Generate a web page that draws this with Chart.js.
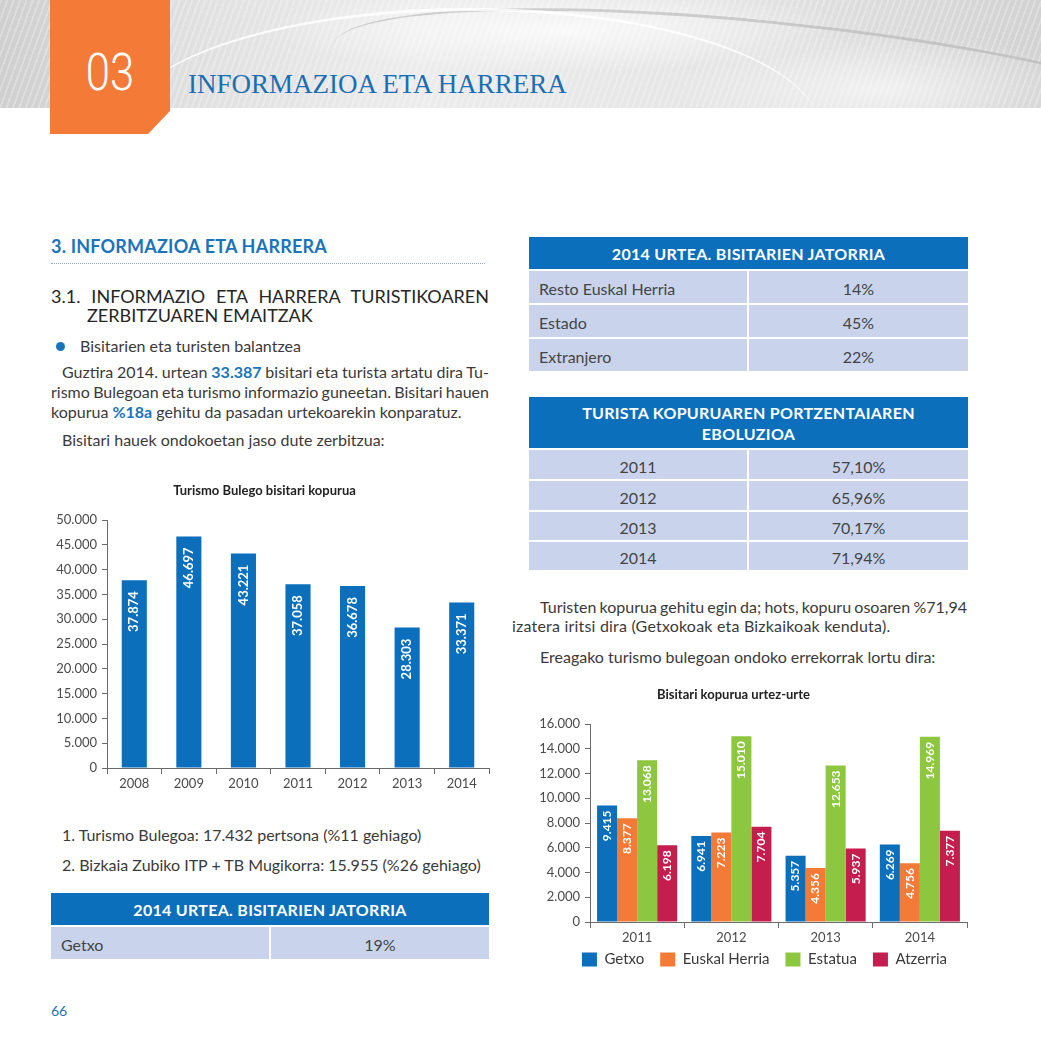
<!DOCTYPE html>
<html>
<head>
<meta charset="utf-8">
<script src="https://cdn.jsdelivr.net/npm/chart.js@4.4.1/dist/chart.umd.min.js"></script>
<style>
  html, body { margin:0; padding:0; }
  body { width:1041px; height:1041px; position:relative; overflow:hidden; background:#fff; font-family: Lato, "Noto Sans", sans-serif; color:#3a3a3a; }
  .abs { position:absolute; white-space:nowrap; }
  .hdr { left:0; top:0; width:1041px; height:108px;
    background:
      radial-gradient(ellipse 420px 60px at 560px 30px, rgba(255,255,255,0.75), rgba(255,255,255,0) 70%),
      radial-gradient(ellipse 300px 80px at 880px 90px, rgba(255,255,255,0.6), rgba(255,255,255,0) 70%),
      repeating-linear-gradient(110deg, rgba(255,255,255,0.25) 0 2px, rgba(0,0,0,0) 2px 6px),
      linear-gradient(90deg, #cfcfcf 0%, #dedede 15%, #ececec 40%, #e6e6e6 65%, #dcdcdc 85%, #d2d2d2 100%);
  }
  .swoosh { position:absolute; border-top:3px solid rgba(180,180,180,0.6); border-radius:50%; }
  .orange { left:50px; top:0; width:120px; height:134px; background:#F47A38;
    clip-path: polygon(0 0, 120px 0, 120px 111px, 98px 134px, 0 134px); }
  .n03 { left:50px; top:0; width:120px; height:134px; }
  .n03 span { position:absolute; left:60px; top:73px; transform:translate(-50%,-50%) scaleX(0.84); color:#fff; font-family: Roboto, sans-serif; font-weight:300; font-size:52px; line-height:1; }
  .htitle { left:188px; top:66px; font-family:"Liberation Serif", "DejaVu Serif", serif; font-size:27px; color:#1C6EB4; line-height:36px; }
  .t16 { font-size:16px; line-height:20px; }
  .just { text-align:justify; text-align-last:justify; white-space:normal; }
  .tight { word-spacing:-4px; }
  .blue { color:#1A74BA; font-weight:bold; }
  table.tb { position:absolute; border-collapse:separate; border-spacing:0; table-layout:fixed; }
  table.tb td, table.tb th { padding:0; font-size:16px; color:#444; }
  table.tb th { background:#0B6FBB; color:#fff; font-weight:bold; font-size:16px; letter-spacing:0.3px; text-align:center; }
  table.tb td { background:#C9D4EC; padding-top:3px; }
  canvas { position:absolute; }
</style>
</head>
<body>
<div class="abs hdr"></div>
<div class="swoosh" style="left:330px; top:22px; width:900px; height:140px; transform:rotate(6deg); border-top-color:rgba(175,175,175,0.55);"></div>
<div class="swoosh" style="left:120px; top:8px; width:700px; height:240px; border-top-color:rgba(255,255,255,0.8);"></div>
<div style="position:absolute; left:0; top:108px; width:1041px; height:40px; background:#fff;"></div>
<div class="abs orange"></div>
<div class="abs n03"><span>03</span></div>
<div class="abs htitle">INFORMAZIOA ETA HARRERA</div>

<div class="abs" style="left:51px; top:234px; font-size:18px; line-height:24px; font-weight:bold; color:#1A74BA; letter-spacing:0.2px;">3. INFORMAZIOA ETA HARRERA</div>
<div class="abs" style="left:51px; top:263px; width:434px; border-top:1px dotted #9aa7b8;"></div>

<div class="abs just" style="left:51px; top:285px; width:438px; font-size:18px; line-height:22px; color:#262626;">3.1. INFORMAZIO ETA HARRERA TURISTIKOAREN</div>
<div class="abs" style="left:87px; top:304px; font-size:18px; line-height:22px; color:#262626;">ZERBITZUAREN EMAITZAK</div>

<div class="abs" style="left:56px; top:342px; width:9px; height:9px; border-radius:50%; background:#1A74BA;"></div>
<div class="abs t16" style="left:80px; top:336px;">Bisitarien eta turisten balantzea</div>

<div class="abs t16 just tight" style="left:62px; top:362px; width:427px;">Guztira 2014. urtean <span class="blue">33.387</span> bisitari eta turista artatu dira Tu-</div>
<div class="abs t16 just tight" style="left:51px; top:382px; width:438px;">rismo Bulegoan eta turismo informazio guneetan. Bisitari hauen</div>
<div class="abs t16" style="left:51px; top:402px;">kopurua <span class="blue">%18a</span> gehitu da pasadan urtekoarekin konparatuz.</div>
<div class="abs t16" style="left:62px; top:430px;">Bisitari hauek ondokoetan jaso dute zerbitzua:</div>

<div class="abs t16" style="left:62px; top:825px;">1. Turismo Bulegoa: 17.432 pertsona (%11 gehiago)</div>
<div class="abs t16" style="left:62px; top:855px;">2. Bizkaia Zubiko ITP + TB Mugikorra: 15.955 (%26 gehiago)</div>

<div class="abs" style="left:51px; top:1001px; font-size:14px; line-height:20px; color:#1A74BA;">66</div>

<div class="abs t16 just tight" style="left:540px; top:597px; width:427px;">Turisten kopurua gehitu egin da; hots, kopuru osoaren %71,94</div>
<div class="abs t16" style="left:512px; top:616px; letter-spacing:0.2px;">izatera iritsi dira (Getxokoak eta Bizkaikoak kenduta).</div>
<div class="abs t16" style="left:540px; top:647px;">Ereagako turismo bulegoan ondoko errekorrak lortu dira:</div>

<div id="tables"></div>

<canvas id="c1" width="455" height="317" style="left:40px; top:478px;"></canvas>
<canvas id="c2" width="494" height="305" style="left:500px; top:682px;"></canvas>

<script>
// ---------- DATA ----------
const originTitle = "2014 URTEA. BISITARIEN JATORRIA";
const originRightLabels = ["Resto Euskal Herria", "Estado", "Extranjero"];
const originRightValues = ["14%", "45%", "22%"];
const originLeftLabels = ["Getxo"];
const originLeftValues = ["19%"];

const evolTitle = "TURISTA KOPURUAREN PORTZENTAIAREN<br>EBOLUZIOA";
const evolYears = ["2011", "2012", "2013", "2014"];
const evolValues = ["57,10%", "65,96%", "70,17%", "71,94%"];

const officeTitle = "Turismo Bulego bisitari kopurua";
const officeYears = ["2008", "2009", "2010", "2011", "2012", "2013", "2014"];
const officeVisitors = [37874, 46697, 43221, 37058, 36678, 28303, 33371];

const originChartTitle = "Bisitari kopurua urtez-urte";
const originYears = ["2011", "2012", "2013", "2014"];
const getxo = [9415, 6941, 5357, 6269];
const euskalHerria = [8377, 7223, 4356, 4756];
const estatua = [13068, 15010, 12653, 14969];
const atzerria = [6198, 7704, 5937, 7377];

// ---------- TABLES ----------
function makeTable(left, top, widths, headerH, header, rows, rowHs, leftAlignFirst) {
  const t = document.createElement('table');
  t.className = 'tb';
  t.style.left = left + 'px';
  t.style.top = top + 'px';
  let html = '<colgroup><col style="width:' + widths[0] + 'px"><col style="width:' + widths[1] + 'px"></colgroup>';
  html += '<tr><th colspan="2" style="height:' + headerH + 'px; line-height:21px;">' + header + '</th></tr>';
  rows.forEach((r, i) => {
    const h = rowHs[i];
    html += '<tr>' +
      '<td style="height:' + h + 'px; border-top:2px solid #fff; border-right:1px solid #fff; text-align:' + (leftAlignFirst ? 'left' : 'center') + '; padding-left:' + (leftAlignFirst ? 10 : 0) + 'px;">' + r[0] + '</td>' +
      '<td style="height:' + h + 'px; border-top:2px solid #fff; border-left:1px solid #fff; text-align:center;">' + r[1] + '</td></tr>';
  });
  t.innerHTML = html;
  document.getElementById('tables').appendChild(t);
}
makeTable(529, 237, [219, 220], 32, originTitle,
  originRightLabels.map((l, i) => [l, originRightValues[i]]), [29, 29, 29], true);
makeTable(529, 397, [219, 220], 51, evolTitle,
  evolYears.map((l, i) => [l, evolValues[i]]), [26, 26, 25, 25], false);
makeTable(51, 893, [219, 219], 32, originTitle,
  originLeftLabels.map((l, i) => [l, originLeftValues[i]]), [29], true);

// ---------- CHARTS ----------
const fmt = v => String(v).replace(/\B(?=(\d{3})+(?!\d))/g, '.');
const AX = '#6b6b6b';
const TICK = '#4a4a4a';

const barLabels = {
  id: 'barLabels',
  afterDatasetsDraw(chart, args, opts) {
    const ctx = chart.ctx;
    ctx.save();
    ctx.fillStyle = '#fff';
    ctx.font = 'bold ' + opts.size + 'px Lato, sans-serif';
    ctx.textAlign = 'right';
    ctx.textBaseline = 'middle';
    chart.data.datasets.forEach((ds, i) => {
      const meta = chart.getDatasetMeta(i);
      meta.data.forEach((bar, j) => {
        ctx.save();
        ctx.translate(bar.x, bar.y + opts.offset);
        ctx.rotate(-Math.PI / 2);
        ctx.fillText(fmt(ds.data[j]), 0, 0);
        ctx.restore();
      });
    });
    ctx.restore();
  }
};

const legendShift = {
  id: 'legendShift',
  afterLayout(chart, args, opts) {
    if (chart.legend) {
      chart.legend.left += opts.dx || 0;
      chart.legend.right += opts.dx || 0;
      chart.legend.top += opts.dy || 0;
      chart.legend.bottom += opts.dy || 0;
    }
  }
};

function axes(yMax, yStep, yWidth, xHeight) {
  return {
    x: {
      grid: { drawOnChartArea: false, color: AX, tickLength: 6, offset: true },
      border: { color: AX, width: 1 },
      ticks: { color: TICK, font: { family: 'Lato', size: 13 }, padding: 2 },
      afterFit: s => { s.height = xHeight; }
    },
    y: {
      min: 0, max: yMax,
      grid: { drawOnChartArea: false, color: AX, tickLength: 5 },
      border: { color: AX, width: 1 },
      ticks: { stepSize: yStep, color: TICK, font: { family: 'Lato', size: 13 }, padding: 5, callback: v => fmt(v) },
      afterFit: s => { s.width = yWidth; }
    }
  };
}

const titleFont = { family: 'Lato', size: 13, weight: 'bold' };

new Chart(document.getElementById('c1'), {
  type: 'bar',
  data: {
    labels: officeYears,
    datasets: [{ label: officeTitle, data: officeVisitors, backgroundColor: '#0B6FBB', categoryPercentage: 1, barPercentage: 0.46 }]
  },
  options: {
    responsive: false, animation: false,
    layout: { padding: { top: 0, right: 6, left: 0, bottom: 0 } },
    scales: axes(50000, 5000, 67, 27),
    plugins: {
      legend: { display: false },
      tooltip: { enabled: false },
      title: { display: true, text: officeTitle, color: '#222', font: titleFont, padding: { top: 5.2, bottom: 21.2 } },
      barLabels: { size: 13, offset: 11 }
    }
  },
  plugins: [barLabels]
});

new Chart(document.getElementById('c2'), {
  type: 'bar',
  data: {
    labels: originYears,
    datasets: [
      { label: 'Getxo', data: getxo, backgroundColor: '#0B6FBB' },
      { label: 'Euskal Herria', data: euskalHerria, backgroundColor: '#F47A38' },
      { label: 'Estatua', data: estatua, backgroundColor: '#8DC63F' },
      { label: 'Atzerria', data: atzerria, backgroundColor: '#C41E4F' }
    ].map(d => Object.assign(d, { categoryPercentage: 0.85, barPercentage: 1 }))
  },
  options: {
    responsive: false, animation: false,
    layout: { padding: { top: 0, right: 27, left: 0, bottom: 0 } },
    scales: axes(16000, 2000, 90, 24),
    plugins: {
      legend: { display: true, position: 'bottom',
        labels: { boxWidth: 15, boxHeight: 14, padding: 16, color: '#3a3a3a', font: { family: 'Lato', size: 15 } } },
      tooltip: { enabled: false },
      title: { display: true, text: originChartTitle, color: '#222', font: titleFont, padding: { top: 5.2, bottom: 21.2 } },
      barLabels: { size: 12, offset: 5 },
      legendShift: { dx: 31, dy: -10 }
    }
  },
  plugins: [barLabels, legendShift]
});
</script>
</body>
</html>
